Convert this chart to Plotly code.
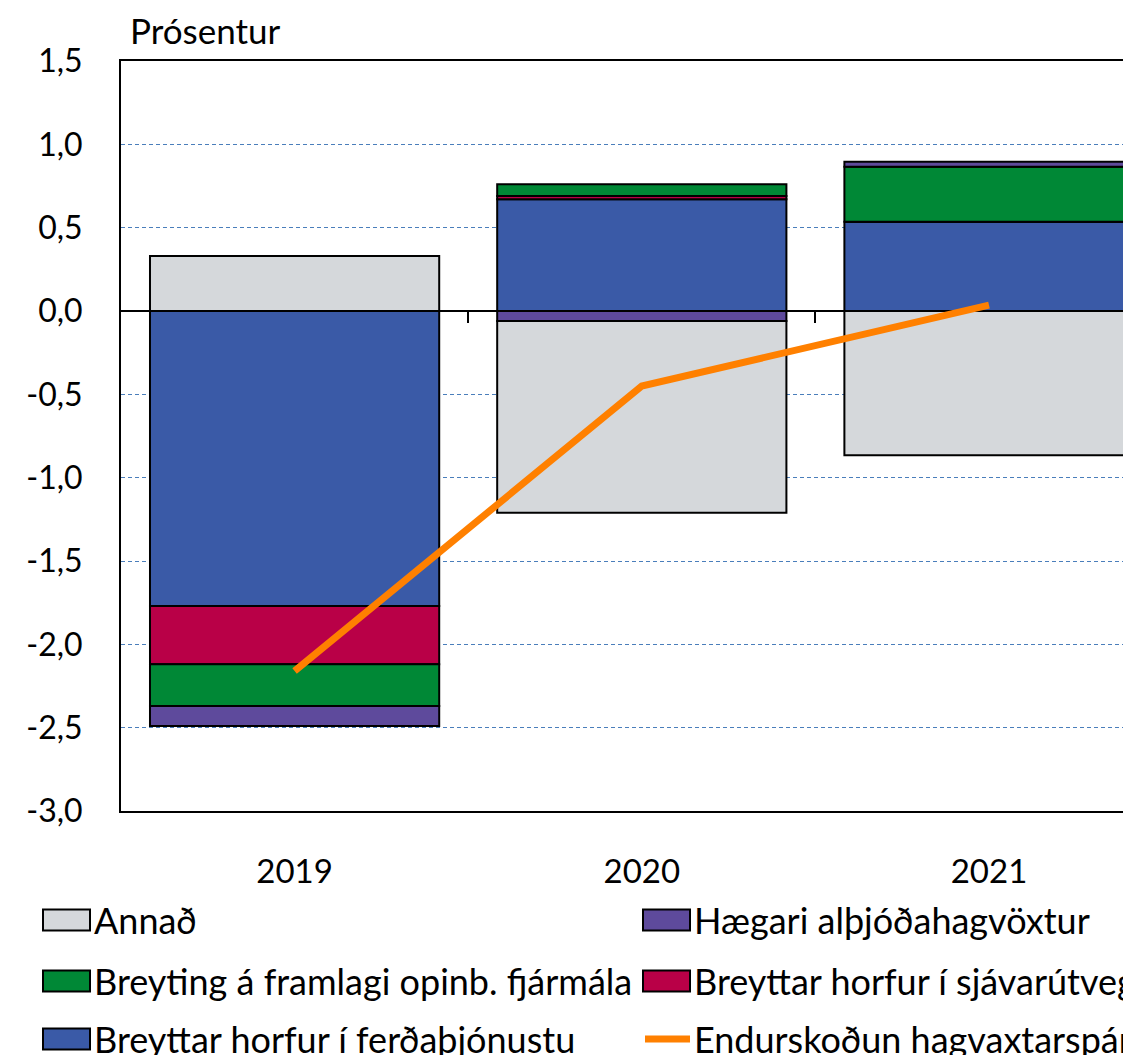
import plotly.graph_objects as go

years = ["2019", "2020", "2021"]

# stacked components (percentage points)
ferdathjonusta = [-1.77, 0.67, 0.535]
sjavarutvegur = [-0.35, 0.02, 0.0]
opinb_fjarmal = [-0.25, 0.07, 0.33]
althjodahagvoxtur = [-0.12, -0.06, 0.03]
annad = [0.33, -1.15, -0.865]
endurskodun = [-2.16, -0.45, 0.035]

series_names = [
    "Breyttar horfur í ferðaþjónustu",
    "Breyttar horfur í sjávarútvegi",
    "Breyting á framlagi opinb. fjármála",
    "Hægari alþjóðahagvöxtur",
    "Annað",
]
series_values = [ferdathjonusta, sjavarutvegur, opinb_fjarmal, althjodahagvoxtur, annad]
series_colors = ["#3A5AA7", "#B90047", "#008836", "#5E4A9C", "#D5D8DB"]
line_name = "Endurskoðun hagvaxtarspár"
line_color = "#FF8000"

ytick_vals = [1.5, 1.0, 0.5, 0.0, -0.5, -1.0, -1.5, -2.0, -2.5, -3.0]
ytick_text = ["1,5", "1,0", "0,5", "0,0", "-0,5", "-1,0", "-1,5", "-2,0", "-2,5", "-3,0"]

FONT = "Lato"
xpos = list(range(len(years)))

fig = go.Figure()
for name, vals, col in zip(series_names, series_values, series_colors):
    fig.add_trace(go.Bar(
        x=xpos, y=vals, name=name, width=0.833,
        marker=dict(color=col, line=dict(color="black", width=2)),
        showlegend=False,
    ))
fig.add_trace(go.Scatter(
    x=xpos, y=endurskodun, mode="lines", name=line_name,
    line=dict(color=line_color, width=7), showlegend=False,
))
# helper trace so the overlay axis with boundary ticks is rendered
fig.add_trace(go.Scatter(x=[0], y=[0], xaxis="x2", mode="markers",
                         marker=dict(opacity=0), hoverinfo="skip", showlegend=False))

# page body has an 8px default margin; the window crops the right/bottom edge
fig.update_layout(
    width=1131, height=1055,
    margin=dict(l=113, r=8, t=53, b=252),
    barmode="relative",
    plot_bgcolor="white", paper_bgcolor="white",
    font=dict(family=FONT, size=31, color="black"),
    xaxis=dict(
        range=[-0.5, 2.409], tickvals=xpos, ticktext=years,
        showline=True, mirror=True, linecolor="black", linewidth=2,
        showgrid=False, zeroline=False, ticks="",
        ticklabelstandoff=30, tickfont=dict(size=33),
    ),
    xaxis2=dict(
        overlaying="x", anchor="free", position=3 / 4.5,
        range=[-0.5, 2.409], tickvals=[0.5, 1.5], ticks="outside",
        ticklen=11, tickwidth=2, tickcolor="black",
        showticklabels=False, showline=False, showgrid=False, zeroline=False,
    ),
    yaxis=dict(
        range=[-3.0, 1.5], tickvals=ytick_vals, ticktext=ytick_text,
        showline=True, linecolor="black", linewidth=2,
        showgrid=True, gridcolor="#4A7EBB", gridwidth=1, griddash="4px,3px",
        zeroline=True, zerolinecolor="black", zerolinewidth=2,
        ticks="", ticklabelstandoff=30, tickfont=dict(size=32),
    ),
)

fig.add_annotation(text="Prósentur", xref="paper", yref="paper",
                   x=(128 - 121) / 1010, y=(811 - 30) / 750,
                   xanchor="left", yanchor="middle", showarrow=False,
                   font=dict(size=35, family=FONT))

# manual legend (two columns, clipped at the right edge like the source)
def px_x(p):
    return (p - 121) / 1010

def px_y(p):
    return (811 - p) / 750

legend_items = [
    ("Annað", "#D5D8DB", 43, 920, "box"),
    ("Hægari alþjóðahagvöxtur", "#5E4A9C", 643, 920, "box"),
    ("Breyting á framlagi opinb. fjármála", "#008836", 43, 981, "box"),
    ("Breyttar horfur í sjávarútvegi", "#B90047", 643, 981, "box"),
    ("Breyttar horfur í ferðaþjónustu", "#3A5AA7", 43, 1039, "box"),
    (line_name, line_color, 643, 1039, "line"),
]
for text, col, x0, yc, kind in legend_items:
    if kind == "box":
        fig.add_shape(type="rect", xref="paper", yref="paper",
                      x0=px_x(x0), x1=px_x(x0 + 47), y0=px_y(yc - 10.5), y1=px_y(yc + 10.5),
                      fillcolor=col, line=dict(color="black", width=2))
    else:
        fig.add_shape(type="line", xref="paper", yref="paper",
                      x0=px_x(x0 + 2), x1=px_x(x0 + 47), y0=px_y(yc), y1=px_y(yc),
                      line=dict(color=col, width=7))
    fig.add_annotation(text=text, xref="paper", yref="paper",
                       x=px_x(x0 + 49), y=px_y(yc), xanchor="left", yanchor="middle",
                       showarrow=False, font=dict(size=36, family=FONT))

fig.write_html("out.html")
